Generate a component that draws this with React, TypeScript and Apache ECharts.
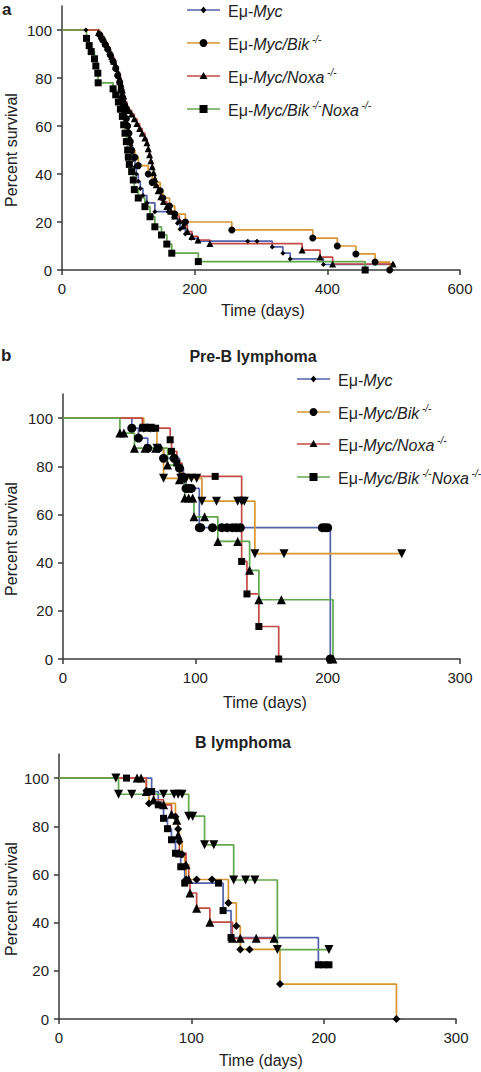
import React, { useEffect, useRef } from 'react';
import * as echarts from 'echarts';

const FONT = '"Liberation Sans", Arial, Helvetica, sans-serif';

const blue = '#5261ab';
const orange = '#d9962f';
const red = '#c44a44';
const green = '#63a84d';

// ---------- Panel a: [days, percent survival] ----------
const aMyc = [[0,100],[36,100],[55,98.5],[59,97],[63,95.5],[66,94],[69,92],[72,90],[75,88],[78,86],[81,83.5],[84,81],[86,78.5],[88,76],[90,73],[92,70],[94,67],[96,64],[98,61],[100,58],[102,55],[104,52],[106,49],[108,46],[110,43],[112,40],[115,37],[118,34],[122,31],[128,28],[140,24.3],[160,24.3],[168,22],[174,19.5],[178,17],[186,15],[195,13.2],[205,12],[280,12],[294,12],[317,9.6],[333,7],[344,4.6],[394,2.3],[499,2.3]];
const aBik = [[0,100],[57,98],[61,96],[65,94],[69,92],[73,89.5],[77,87],[81,84],[84,81],[87,78],[89,75],[91,72],[93,69],[95,66],[97,63],[99,60],[101,57],[103,53.5],[105,50],[110,47],[115,43.5],[130,40],[136,36.5],[148,33],[152,30],[162,26.7],[170,23.3],[186,20],[256,16.7],[378,13.3],[415,10],[443,6.7],[472,3.3],[494,0]];
const aNoxa = [[0,100],[55,99],[59,97.5],[63,96],[66,94.5],[69,93],[72,91],[75,89],[78,87],[81,85],[84,82.5],[87,80],[89,77.5],[91,75],[93,72.5],[95,70],[98,68],[101,66.5],[105,65],[109,63],[113,61],[117,59],[121,57],[125,55],[128,53],[130,50.5],[132,48],[134,45.5],[136,43],[138,40.5],[140,38],[142,35.5],[145,33],[149,30.5],[153,28.5],[158,26.5],[164,24.5],[170,22.5],[177,20.5],[183,18.5],[189,16],[196,14],[205,12.5],[223,11],[362,8.3],[389,5.4],[408,2.5],[499,2.5]];
const aBikNoxa = [[0,100],[37,96.5],[41,93.5],[44,91],[49,88],[51,85],[54,82],[54.5,78],[77,75.5],[81,73],[85,70],[88,67],[91,64],[93,60.5],[95,57],[97,53.5],[99,50],[100,47],[101.5,44],[105,41],[107.5,37.5],[109,33.5],[115,30],[125,26.4],[132.7,22.2],[140,18],[150,14.6],[158,10.8],[165.5,7],[205.5,3.5],[457,0]];

// ---------- Panel b, Pre-B lymphoma ----------
const preMyc = [[0,100],[52,95.8],[57,91.7],[64,87.5],[72,87.5],[76,83.3],[84,83.3],[88,79.2],[91,75],[93,70.8],[95,70.8],[97,70.8],[103,54.5],[104,54.5],[113,54.5],[120,54.5],[124,54.5],[128,54.5],[131,54.5],[134,54.5],[196,54.5],[198,54.5],[200,54.5],[202,0]];
const preBik = [[0,100],[61,95.8],[66,95.8],[71,87.5],[76,75],[89,75],[93,75],[97,75],[101,75],[105,65.5],[116,65.5],[132,65.5],[135,65.5],[137,65.5],[145,43.7],[167,43.7],[256,43.7]];
const preNoxa = [[0,100],[60,95.8],[64,95.8],[67,95.8],[70,95.8],[81,91],[82,86.2],[86,81.3],[90,75.8],[115,75.8],[135,40.5],[139,27],[148,13.5],[163,0]];
const preBikNoxa = [[0,100],[43,93.8],[46,93.8],[54,87.5],[62,87.5],[70,87.5],[79,80.5],[88,74.4],[92,66.8],[95,66.8],[98,66.8],[99,59],[107,59],[117,48.8],[132,48.8],[141,36.8],[148,24.6],[165,24.6],[204,0]];

// ---------- Panel b, B lymphoma ----------
const bMyc = [[0,100],[51,100],[70,94.4],[75,88.9],[79,83.3],[82,79],[85,74.4],[88,68.8],[92,63.2],[95,56.4],[120.5,56.4],[124,45],[130,33.8],[196,22.5],[200,22.5],[204,22.5]];
const bBik = [[0,100],[66,94.7],[68,89.5],[88,84],[90,78.9],[91,73.7],[93,68.4],[95,63.2],[96,57.9],[104,57.9],[115.6,57.9],[128,48.2],[134,38.6],[137,28.9],[144,28.9],[167,14.5],[255,0]];
const bNoxa = [[0,100],[59,100],[62,100],[66,94.4],[71.5,91],[79,88.9],[85,85],[89,82.5],[90,76.3],[91,68.9],[96,64],[98,58],[99,52.3],[104,46],[114,40.2],[131,33.5],[137,33.5],[149,33.5],[162.5,33.5]];
const bBikNoxa = [[0,100],[43,100],[45,93.3],[55,93.3],[79,93.3],[87,93.3],[90,93.3],[93,93.3],[98,84.2],[101,84.2],[110,72.3],[117,72.3],[132,57.7],[141,57.7],[148,57.7],[165,28.8],[204,28.8]];

const yTicks = [0, 20, 40, 60, 80, 100];

const legendLabels = [
  '{n|Eμ-}{i|Myc}',
  '{n|Eμ-}{i|Myc/Bik}{s| -/-}',
  '{n|Eμ-}{i|Myc/Noxa}{s| -/-}',
  '{n|Eμ-}{i|Myc/Bik}{s| -/-}{i|Noxa}{s| -/-}',
];
const legendColors = [blue, orange, red, green];
const legendSymbols = ['diamond', 'circle', 'triangle', 'rect'];

function km(name: string, data: number[][], idx: number, color: string, symbol: string, size: number, rotate = 0) {
  return {
    type: 'line',
    name,
    xAxisIndex: idx,
    yAxisIndex: idx,
    step: 'end',
    data: data.map((p, i) => (i === 0 ? { value: p, symbol: 'none' } : p)),
    symbol,
    symbolSize: size,
    symbolRotate: rotate,
    showAllSymbol: true,
    lineStyle: { color, width: 1.7 },
    itemStyle: { color: '#000' },
    emphasis: { disabled: true },
    silent: true,
  };
}

const axisCol = '#3a3a3a';

function xAx(idx: number, max: number, interval: number) {
  return {
    gridIndex: idx,
    type: 'value',
    min: 0,
    max,
    interval,
    axisLine: { show: true, onZero: false, lineStyle: { color: axisCol, width: 1.5 } },
    axisTick: { show: true, length: 5, lineStyle: { color: axisCol, width: 1.5 } },
    axisLabel: { fontSize: 15, color: '#222', margin: 11, fontFamily: FONT },
    splitLine: { show: false },
  };
}
function yAx(idx: number) {
  return {
    gridIndex: idx,
    type: 'value',
    min: 0,
    max: 110,
    interval: 20,
    axisLine: { show: true, lineStyle: { color: axisCol, width: 1.5 } },
    axisTick: { show: true, length: 5, customValues: yTicks, lineStyle: { color: axisCol, width: 1.5 } },
    axisLabel: { fontSize: 15, color: '#222', margin: 10, fontFamily: FONT, customValues: yTicks },
    splitLine: { show: false },
  };
}

const rich = {
  n: { fontSize: 16, fontFamily: FONT, fill: '#222', lineHeight: 18, verticalAlign: 'bottom' },
  i: { fontSize: 16, fontFamily: FONT, fontStyle: 'italic', fill: '#222', lineHeight: 18, verticalAlign: 'bottom' },
  s: { fontSize: 10, fontFamily: FONT, fontStyle: 'italic', fill: '#222', lineHeight: 10, verticalAlign: 'top' },
};

function marker(sym: string, cx: number, cy: number) {
  const st = { fill: '#000' };
  if (sym === 'diamond') return { type: 'polygon', shape: { points: [[cx, cy - 3.5], [cx + 2.8, cy], [cx, cy + 3.5], [cx - 2.8, cy]] }, style: st };
  if (sym === 'circle') return { type: 'circle', shape: { cx, cy, r: 4 }, style: st };
  if (sym === 'triangle') return { type: 'polygon', shape: { points: [[cx, cy - 4], [cx + 4, cy + 3], [cx - 4, cy + 3]] }, style: st };
  return { type: 'rect', shape: { x: cx - 4, y: cy - 4, width: 8, height: 8 }, style: st };
}

function legend(x0: number, ys: number[]) {
  const els: any[] = [];
  ys.forEach((y, i) => {
    els.push({ type: 'line', shape: { x1: x0, y1: y, x2: x0 + 33, y2: y }, style: { stroke: legendColors[i], lineWidth: 1.7 } });
    els.push(marker(legendSymbols[i], x0 + 16.5, y));
    els.push({ type: 'text', x: x0 + 41, y, style: { text: legendLabels[i], rich, verticalAlign: 'middle', align: 'left' } });
  });
  return els;
}

function txt(text: string, x: number, y: number, opts: any = {}) {
  return {
    type: 'text',
    x,
    y,
    rotation: opts.rotation || 0,
    style: {
      text,
      fontSize: opts.fontSize || 16,
      fontWeight: opts.bold ? 'bold' : 'normal',
      fontFamily: FONT,
      fill: '#222',
      align: opts.align || 'center',
      verticalAlign: 'middle',
    },
  };
}

export default function App() {
  const ref = useRef<HTMLDivElement>(null);
  useEffect(() => {
    if (!ref.current) return;
    const chart = echarts.init(ref.current, undefined, { renderer: 'svg' });
    const option: any = {
      animation: false,
      backgroundColor: '#fff',
      grid: [
        { left: 62, top: 6, width: 398, height: 264 },
        { left: 63, top: 394, width: 397, height: 265 },
        { left: 59, top: 754, width: 397, height: 265 },
      ],
      xAxis: [xAx(0, 600, 200), xAx(1, 300, 100), xAx(2, 300, 100)],
      yAxis: [yAx(0), yAx(1), yAx(2)],
      series: [
        km('Eμ-Myc', aMyc, 0, blue, 'diamond', 5),
        km('Eμ-Myc/Bik-/-', aBik, 0, orange, 'circle', 7),
        km('Eμ-Myc/Noxa-/-', aNoxa, 0, red, 'triangle', 7),
        km('Eμ-Myc/Bik-/-Noxa-/-', aBikNoxa, 0, green, 'rect', 7),
        km('Pre-B Eμ-Myc', preMyc, 1, blue, 'circle', 9),
        km('Pre-B Eμ-Myc/Bik-/-', preBik, 1, orange, 'triangle', 9, 180),
        km('Pre-B Eμ-Myc/Noxa-/-', preNoxa, 1, red, 'rect', 7),
        km('Pre-B Eμ-Myc/Bik-/-Noxa-/-', preBikNoxa, 1, green, 'triangle', 9),
        km('B Eμ-Myc', bMyc, 2, blue, 'rect', 7),
        km('B Eμ-Myc/Bik-/-', bBik, 2, orange, 'diamond', 8),
        km('B Eμ-Myc/Noxa-/-', bNoxa, 2, red, 'triangle', 9),
        km('B Eμ-Myc/Bik-/-Noxa-/-', bBikNoxa, 2, green, 'triangle', 9, 180),
      ],
      graphic: [
        txt('a', 2, 9, { bold: true, align: 'left', fontSize: 17 }),
        txt('b', 1, 355, { bold: true, align: 'left', fontSize: 17 }),
        txt('Pre-B lymphoma', 253, 356, { bold: true }),
        txt('B lymphoma', 243, 742, { bold: true }),
        txt('Time (days)', 263, 310),
        txt('Time (days)', 265, 702),
        txt('Time (days)', 261, 1060),
        txt('Percent survival', 11, 150, { rotation: Math.PI / 2 }),
        txt('Percent survival', 11, 539, { rotation: Math.PI / 2 }),
        txt('Percent survival', 11, 899, { rotation: Math.PI / 2 }),
        ...legend(187, [10, 43, 76, 109]),
        ...legend(297, [379, 412, 444, 477]),
      ],
    };
    chart.setOption(option);
    return () => chart.dispose();
  }, []);
  return <div ref={ref} style={{ position: 'absolute', left: 0, top: 0, width: 481, height: 1072, background: '#fff' }} />;
}
